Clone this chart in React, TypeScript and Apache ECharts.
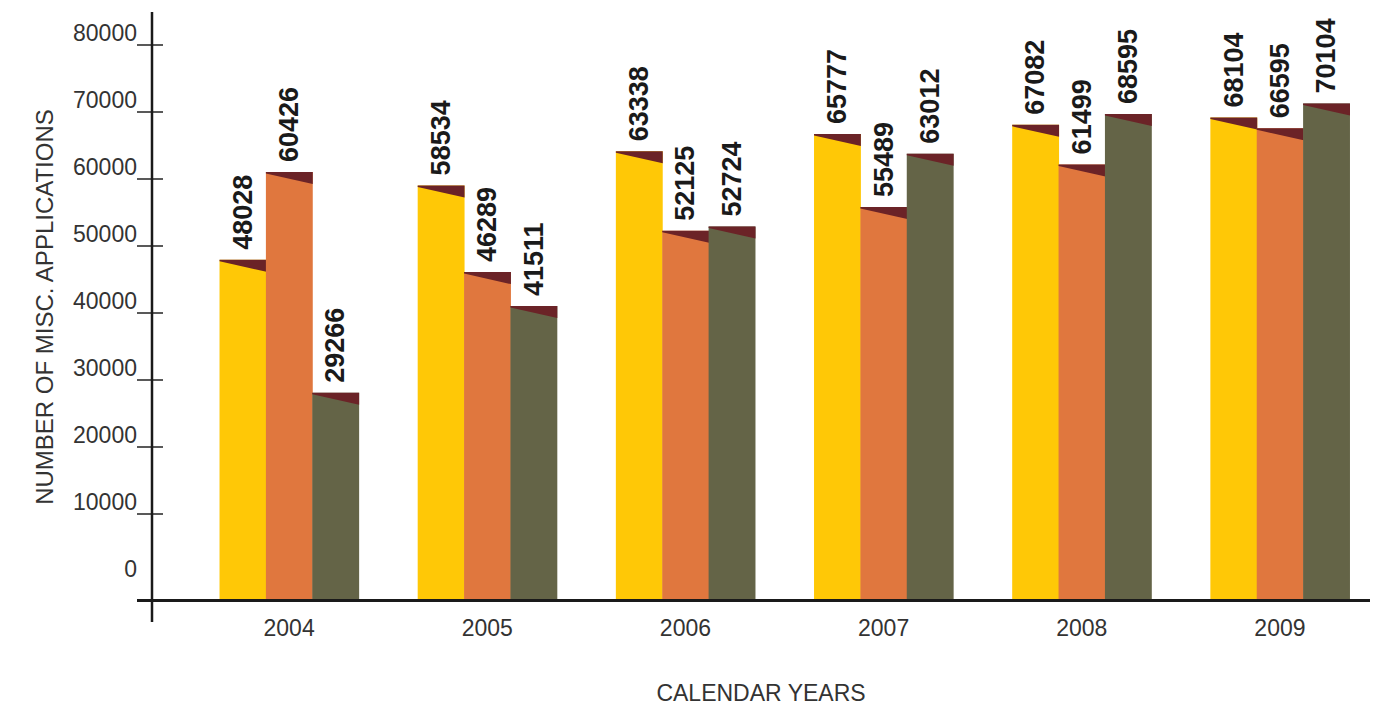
import React, { useEffect, useRef } from "react";
import * as echarts from "echarts";

// Calendar years on the category axis
const years = ["2004", "2005", "2006", "2007", "2008", "2009"];

// Three application series per year (left, middle, right bar)
const seriesYellow = [48028, 58534, 63338, 65777, 67082, 68104];
const seriesOrange = [60426, 46289, 52125, 55489, 61499, 66595];
const seriesOlive = [29266, 41511, 52724, 63012, 68595, 70104];

// Tick values shown on the vertical axis
const tickLabels = [0, 10000, 20000, 30000, 40000, 50000, 60000, 70000, 80000];
const tickMarks = [10000, 20000, 30000, 40000, 50000, 60000, 70000, 80000];

const COLORS = ["#FFC806", "#E0773E", "#646447"];
const BEVEL = "#6B2327";
const FONT = "'Liberation Sans', Arial, Helvetica, sans-serif";

function makeRenderItem(slot: number, color: string) {
  return (params: any, api: any) => {
    const ci = api.value(0);
    const v = api.value(1);
    const top = api.coord([ci, v]);
    const base = api.coord([ci, 0]);
    const band = api.size([1, 0])[0];
    const w = band * 0.234;
    const x0 = top[0] + (slot - 1.5) * w;
    const y0 = top[1];
    return {
      type: "group",
      children: [
        {
          type: "rect",
          shape: { x: x0, y: y0, width: w + 0.5, height: base[1] - y0 },
          style: { fill: color },
        },
        {
          type: "polygon",
          shape: {
            points: [
              [x0, y0],
              [x0 + w + 0.5, y0],
              [x0 + w + 0.5, y0 + 12],
              [x0, y0 + 1.5],
            ],
          },
          style: { fill: BEVEL },
        },
        {
          type: "text",
          x: x0 + w / 2,
          y: y0 - 10,
          rotation: Math.PI / 2,
          style: {
            text: String(v),
            fontSize: 27,
            fontWeight: "bold",
            fontFamily: FONT,
            fill: "#1a1a1a",
            align: "left",
            verticalAlign: "middle",
          },
        },
      ],
    };
  };
}

export default function App() {
  const ref = useRef<HTMLDivElement>(null);

  useEffect(() => {
    if (!ref.current) return;
    const chart = echarts.init(ref.current, undefined, { renderer: "svg" });
    const all = [seriesYellow, seriesOrange, seriesOlive];
    chart.setOption({
      animation: false,
      backgroundColor: "#ffffff",
      grid: { left: 190, top: 5, width: 1194, height: 595 },
      xAxis: {
        type: "category",
        data: years,
        axisLine: { show: false },
        axisTick: { show: false },
        axisLabel: {
          margin: 16,
          fontSize: 23,
          color: "#333333",
          fontFamily: FONT,
        },
      },
      yAxis: [
        {
          type: "value",
          min: 0,
          max: 84000,
          show: false,
        },
        {
          type: "value",
          min: -2836,
          max: 85970,
          position: "left",
          offset: 38,
          axisLine: { show: false },
          splitLine: { show: false },
          axisTick: {
            show: true,
            length: 15,
            customValues: tickMarks,
            lineStyle: { color: "#222222", width: 1.5 },
          },
          axisLabel: {
            customValues: tickLabels,
            formatter: (v: number) => String(v),
            margin: 15,
            fontSize: 23,
            color: "#333333",
            fontFamily: FONT,
            verticalAlign: "bottom",
          },
        },
        {
          type: "value",
          min: -2836,
          max: 85970,
          position: "left",
          offset: 38,
          axisLine: { show: false },
          splitLine: { show: false },
          axisLabel: { show: false },
          axisTick: {
            show: true,
            inside: true,
            length: 11,
            customValues: tickMarks,
            lineStyle: { color: "#222222", width: 1.5 },
          },
        },
      ],
      series: all.map((vals, slot) => ({
        type: "custom",
        xAxisIndex: 0,
        yAxisIndex: 0,
        data: vals.map((v, i) => [i, v]),
        renderItem: makeRenderItem(slot, COLORS[slot]),
        clip: false,
      })),
      graphic: [
        {
          type: "line",
          shape: { x1: 152, y1: 12, x2: 152, y2: 622 },
          style: { stroke: "#1a1a1a", lineWidth: 2.5 },
          z: 50,
        },
        {
          type: "line",
          shape: { x1: 137, y1: 600.5, x2: 1370, y2: 600.5 },
          style: { stroke: "#1a1a1a", lineWidth: 3 },
          z: 50,
        },
        {
          type: "text",
          x: 44,
          y: 307,
          rotation: Math.PI / 2,
          style: {
            text: "NUMBER OF MISC. APPLICATIONS",
            fontSize: 24,
            fontFamily: FONT,
            fill: "#333333",
            align: "center",
            verticalAlign: "middle",
          },
        },
        {
          type: "text",
          x: 761,
          y: 693,
          style: {
            text: "CALENDAR YEARS",
            fontSize: 23,
            fontFamily: FONT,
            fill: "#333333",
            align: "center",
            verticalAlign: "middle",
          },
        },
      ],
    });
    return () => chart.dispose();
  }, []);

  return (
    <div
      ref={ref}
      style={{
        position: "fixed",
        left: 0,
        top: 0,
        width: 1379,
        height: 707,
        background: "#ffffff",
      }}
    />
  );
}
